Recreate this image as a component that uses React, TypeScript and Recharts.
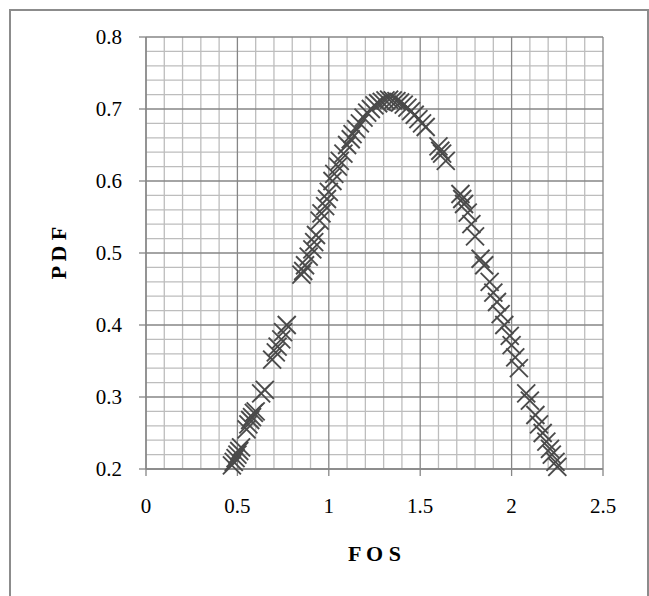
import { ScatterChart, Scatter, XAxis, YAxis, CartesianGrid } from "recharts";

// FOS values and their PDF values
const fos = [
  0.47, 0.48, 0.49, 0.5, 0.51, 0.52, 0.55, 0.56, 0.57, 0.58, 0.59, 0.6, 0.63,
  0.65, 0.69, 0.71, 0.72, 0.74, 0.75, 0.77, 0.85, 0.86, 0.87, 0.89, 0.91, 0.92,
  0.93, 0.95, 0.96, 0.98, 0.99, 1.0, 1.02, 1.03, 1.05, 1.06, 1.08, 1.1, 1.12,
  1.13, 1.15, 1.17, 1.19, 1.21, 1.23, 1.25, 1.27, 1.29, 1.31, 1.33, 1.35, 1.37,
  1.39, 1.41, 1.43, 1.45, 1.47, 1.49, 1.51, 1.53, 1.6, 1.61, 1.62, 1.64, 1.72,
  1.73, 1.74, 1.76, 1.78, 1.8, 1.83, 1.85, 1.88, 1.9, 1.92, 1.94, 1.96, 1.99,
  2.0, 2.02, 2.04, 2.08, 2.1, 2.13, 2.15, 2.17, 2.19, 2.21, 2.22, 2.24, 2.25,
];
const pdf = [
  0.205, 0.21, 0.215, 0.22, 0.225, 0.23, 0.255, 0.262, 0.268, 0.272, 0.278,
  0.28, 0.305, 0.31, 0.352, 0.362, 0.37, 0.38, 0.39, 0.4, 0.47, 0.475, 0.483,
  0.495, 0.505, 0.515, 0.525, 0.545, 0.555, 0.565, 0.575, 0.585, 0.6, 0.61,
  0.62, 0.628, 0.638, 0.65, 0.658, 0.665, 0.672, 0.68, 0.688, 0.695, 0.7,
  0.705, 0.708, 0.71, 0.712, 0.713, 0.712, 0.711, 0.709, 0.706, 0.702, 0.697,
  0.692, 0.686, 0.68, 0.675, 0.648, 0.642, 0.638, 0.628, 0.582, 0.575, 0.568,
  0.556, 0.54, 0.523, 0.492, 0.483, 0.46, 0.445, 0.432, 0.415, 0.4, 0.385,
  0.372, 0.355, 0.34, 0.305, 0.295, 0.275, 0.262, 0.25, 0.238, 0.228, 0.22,
  0.21, 0.203,
];

const xTicks = [0, 0.5, 1, 1.5, 2, 2.5];
const yTicks = [0.2, 0.3, 0.4, 0.5, 0.6, 0.7, 0.8];
const xMinor = [
  0.1, 0.2, 0.3, 0.4, 0.6, 0.7, 0.8, 0.9, 1.1, 1.2, 1.3, 1.4, 1.6, 1.7, 1.8,
  1.9, 2.1, 2.2, 2.3, 2.4,
];
const yMinor = [
  0.22, 0.24, 0.26, 0.28, 0.32, 0.34, 0.36, 0.38, 0.42, 0.44, 0.46, 0.48,
  0.52, 0.54, 0.56, 0.58, 0.62, 0.64, 0.66, 0.68, 0.72, 0.74, 0.76, 0.78,
];

const data = fos.map((x, i) => ({ x, y: pdf[i] }));

const font = "'Liberation Serif', 'Times New Roman', serif";
const axisGray = "#868686";

const Cross = (props: any) => {
  const { cx, cy } = props;
  const s = 9;
  return (
    <g stroke="#4a4a4a" strokeWidth={1.9}>
      <line x1={cx - s} y1={cy - s} x2={cx + s} y2={cy + s} />
      <line x1={cx - s} y1={cy + s} x2={cx + s} y2={cy - s} />
    </g>
  );
};

export default function App() {
  return (
    <div
      style={{
        position: "absolute",
        left: 0,
        top: 0,
        width: 649,
        height: 596,
        overflow: "hidden",
        background: "#fff",
      }}
    >
      <div
        style={{
          position: "absolute",
          left: 9,
          top: 9,
          width: 636,
          height: 620,
          border: "2px solid #8c8c8c",
        }}
      />
      <ScatterChart
        width={649}
        height={596}
        margin={{ top: 37, right: 46, bottom: 0, left: 0 }}
        style={{ position: "absolute", left: 0, top: 0 }}
      >
        <CartesianGrid
          stroke="#bdbdbd"
          strokeWidth={1.3}
          verticalValues={xMinor}
          horizontalValues={yMinor}
        />
        <CartesianGrid
          stroke={axisGray}
          strokeWidth={1.3}
          verticalValues={xTicks}
          horizontalValues={yTicks}
        />
        <XAxis
          type="number"
          dataKey="x"
          domain={[0, 2.5]}
          ticks={xTicks}
          height={127}
          tickSize={7}
          tickMargin={22}
          axisLine={{ stroke: axisGray, strokeWidth: 1.3 }}
          tickLine={{ stroke: axisGray, strokeWidth: 1.3 }}
          tick={{ fill: "#000", fontSize: 21, fontFamily: font }}
          interval={0}
          label={{
            content: ({ viewBox }: any) => (
              <text
                x={viewBox.x + viewBox.width / 2}
                y={viewBox.y + 92}
                textAnchor="middle"
                fontFamily={font}
                fontWeight="bold"
                fontSize={22}
                fill="#000"
              >
                F O S
              </text>
            ),
          }}
        />
        <YAxis
          type="number"
          dataKey="y"
          domain={[0.2, 0.8]}
          ticks={yTicks}
          width={146}
          tickSize={7}
          tickMargin={17}
          axisLine={{ stroke: axisGray, strokeWidth: 1.3 }}
          tickLine={{ stroke: axisGray, strokeWidth: 1.3 }}
          tick={{ fill: "#000", fontSize: 21, fontFamily: font }}
          interval={0}
          label={{
            content: ({ viewBox }: any) => {
              const x = viewBox.x + 58;
              const y = viewBox.y + viewBox.height / 2;
              return (
                <text
                  x={x}
                  y={y}
                  transform={`rotate(-90 ${x} ${y})`}
                  textAnchor="middle"
                  dominantBaseline="central"
                  fontFamily={font}
                  fontWeight="bold"
                  fontSize={22}
                  fill="#000"
                >
                  P D F
                </text>
              );
            },
          }}
        />
        <Scatter data={data} shape={Cross} isAnimationActive={false} />
      </ScatterChart>
    </div>
  );
}
